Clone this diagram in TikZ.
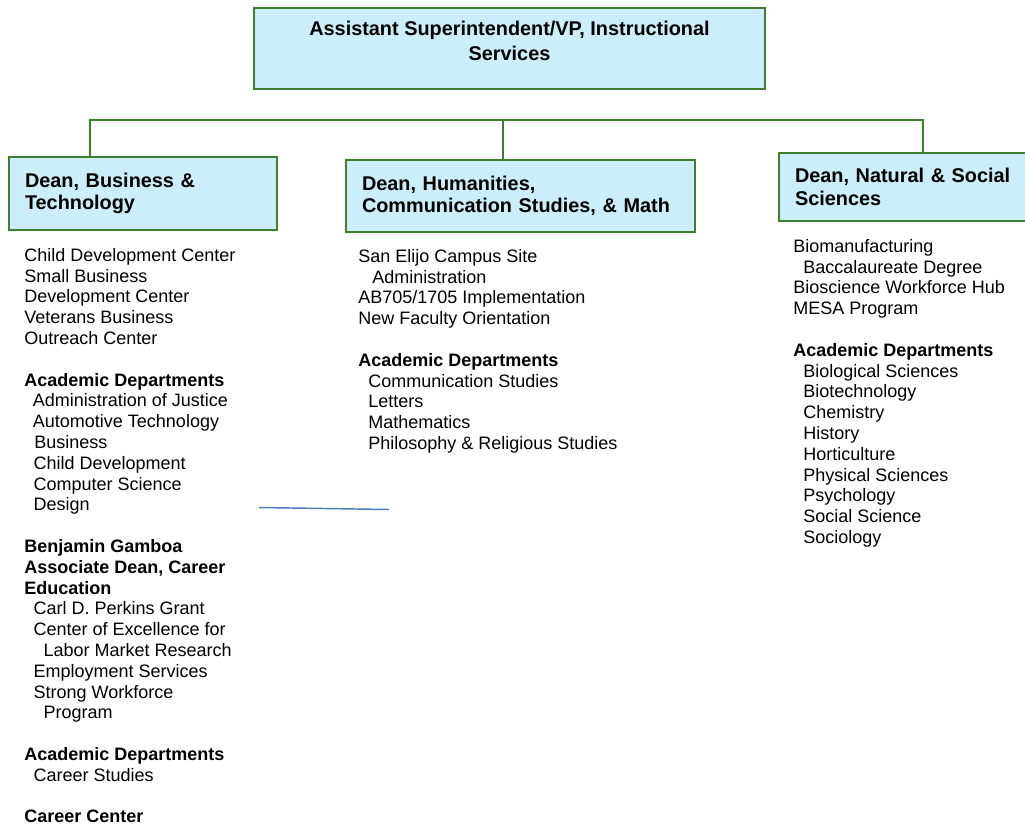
\documentclass[tikz,border=0pt]{standalone}
\usepackage{fontspec}
\setmainfont{Liberation Sans}
\definecolor{boxfill}{HTML}{CCEEFB}
\definecolor{boxline}{HTML}{3D7F2D}
\definecolor{strayblue}{HTML}{4A7EBB}
\begin{document}
\begin{tikzpicture}[x=0.75pt,y=-0.75pt,
  titlebox/.style={draw=boxline, fill=boxfill, line width=1.5pt, rectangle},
  deanbox/.style={titlebox, inner xsep=12pt, inner ysep=0pt, align=left,
    font=\fontsize{14.9}{16.9}\selectfont\bfseries},
  body/.style={inner sep=0pt, align=left, anchor=north west,
    font=\fontsize{13.5}{15.6}\selectfont},
  conn/.style={draw=boxline, line width=1.5pt},
  stray/.style={draw=strayblue, line width=1.1pt}]
\useasboundingbox (0,0) rectangle (1025,825);

% top box
\node[titlebox, minimum width=383.25pt, minimum height=60.75pt] (top) at (509.5,48.5) {};
\node[align=center, inner sep=0pt, font=\fontsize{14.9}{18.75}\selectfont\bfseries] (toptext) at (509.5,40.5)
  {Assistant Superintendent/VP, Instructional\\Services};

% dean boxes
\node[deanbox, minimum width=201pt, minimum height=54.75pt, text width=177pt] (lb) at (143,193.5)
  {Dean, Business \&\\Technology};
\node[deanbox, minimum width=261.75pt, minimum height=54pt, text width=237.75pt] (mb) at (520.5,196)
  {Dean, Humanities,\\Communication Studies, \& Math};
\node[deanbox, minimum width=188.25pt, minimum height=51pt, text width=164.25pt] (rb) at (904.5,187)
  {Dean, Natural \& Social\\Sciences};

% connectors
\coordinate (jl) at (90,120);
\coordinate (jm) at (503,120);
\coordinate (jr) at (923,120);
\draw[conn] (jl |- lb.north) -- (jl) -- (jr) -- (jr |- rb.north);
\draw[conn] (jm) -- (jm |- mb.north);

% stray blue line
\coordinate (s1) at (259,507.5);
\coordinate (s2) at (389,509.5);
\draw[stray] (s1) -- (s2);

% left column
\node[body] (ltext) at (24,248) {%
Child Development Center\\
Small Business\\
Development Center\\
Veterans Business\\
Outreach Center\\[15.6pt]
\textbf{Academic Departments}\\
\hspace*{6.5pt}Administration of Justice\\
\hspace*{6.5pt}Automotive Technology\\
\hspace*{7.5pt}Business\\
\hspace*{7pt}Child Development\\
\hspace*{7pt}Computer Science\\
\hspace*{7pt}Design\\[15.6pt]
\textbf{Benjamin Gamboa}\\
\textbf{Associate Dean, Career}\\
\textbf{Education}\\
\hspace*{7pt}Carl D. Perkins Grant\\
\hspace*{7pt}Center of Excellence for\\
\hspace*{14.5pt}Labor Market Research\\
\hspace*{7pt}Employment Services\\
\hspace*{7pt}Strong Workforce\\
\hspace*{14.5pt}Program\\[15.6pt]
\textbf{Academic Departments}\\
\hspace*{7pt}Career Studies\\[15.6pt]
\textbf{Career Center}};

% middle column
\node[body] (mtext) at (358,249) {%
San Elijo Campus Site\\
\hspace*{10.5pt}Administration\\
AB705/1705 Implementation\\
New Faculty Orientation\\[15.6pt]
\textbf{Academic Departments}\\
\hspace*{7.5pt}Communication Studies\\
\hspace*{7.5pt}Letters\\
\hspace*{7.5pt}Mathematics\\
\hspace*{7.5pt}Philosophy \& Religious Studies};

% right column
\node[body] (rtext) at (793,239) {%
Biomanufacturing\\
\hspace*{7.5pt}Baccalaureate Degree\\
Bioscience Workforce Hub\\
MESA Program\\[15.6pt]
\textbf{Academic Departments}\\
\hspace*{7.5pt}Biological Sciences\\
\hspace*{7.5pt}Biotechnology\\
\hspace*{7.5pt}Chemistry\\
\hspace*{7.5pt}History\\
\hspace*{7.5pt}Horticulture\\
\hspace*{7.5pt}Physical Sciences\\
\hspace*{7.5pt}Psychology\\
\hspace*{7.5pt}Social Science\\
\hspace*{7.5pt}Sociology};
\end{tikzpicture}
\end{document}
